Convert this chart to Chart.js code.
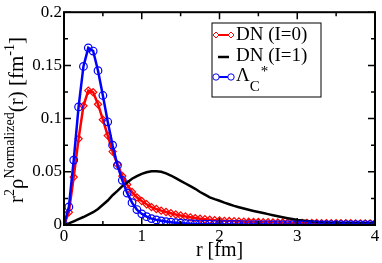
<!DOCTYPE html>
<html>
<head>
<meta charset="utf-8">
<script src="https://cdn.jsdelivr.net/npm/chart.js@4/dist/chart.umd.min.js"></script>
<style>
  body { margin: 0; background: #fff; }
  canvas { display: block; }
</style>
</head>
<body>
<canvas id="chart" width="382" height="263"></canvas>
<script>
// radial grid r [fm]
var rValues = [0, 0.0625, 0.125, 0.1875, 0.25, 0.3125, 0.375, 0.4375, 0.5, 0.5625, 0.625, 0.6875,
    0.75, 0.8125, 0.875, 0.9375, 1, 1.0625, 1.125, 1.1875, 1.25, 1.3125, 1.375, 1.4375, 1.5, 1.5625,
    1.625, 1.6875, 1.75, 1.8125, 1.875, 1.9375, 2, 2.0625, 2.125, 2.1875, 2.25, 2.3125, 2.375, 2.4375,
    2.5, 2.5625, 2.625, 2.6875, 2.75, 2.8125, 2.875, 2.9375, 3, 3.0625, 3.125, 3.1875, 3.25, 3.3125,
    3.375, 3.4375, 3.5, 3.5625, 3.625, 3.6875, 3.75, 3.8125, 3.875, 3.9375, 4];

var dnI0 = [0, 0.012, 0.045, 0.081, 0.112, 0.1263, 0.1248, 0.1135, 0.099, 0.084, 0.069, 0.057,
    0.046, 0.038, 0.031, 0.026, 0.0225, 0.0195, 0.0168, 0.015, 0.0135, 0.0122, 0.011, 0.0099, 0.0089, 0.008,
    0.0072, 0.0065, 0.0059, 0.0054, 0.0049, 0.0045, 0.0042, 0.0039, 0.0037, 0.0035, 0.0033, 0.0031, 0.003, 0.0029,
    0.0028, 0.0027, 0.0026, 0.0025, 0.0024, 0.0023, 0.0022, 0.0022, 0.0021, 0.002, 0.002, 0.0019, 0.0019, 0.0018,
    0.0018, 0.0017, 0.0017, 0.0016, 0.0016, 0.0016, 0.0015, 0.0015, 0.0015, 0.0014, 0.0014];

var dnI1 = [0, 0.0015, 0.0035, 0.0055, 0.0075, 0.0097, 0.012, 0.015, 0.019, 0.023, 0.028, 0.032,
    0.0365, 0.04, 0.0435, 0.046, 0.048, 0.0495, 0.0505, 0.0505, 0.05, 0.0485, 0.0465, 0.044, 0.0415, 0.039,
    0.0365, 0.034, 0.031, 0.0285, 0.026, 0.0243, 0.0228, 0.021, 0.0195, 0.018, 0.0167, 0.0155, 0.0143, 0.0132,
    0.0122, 0.0112, 0.0102, 0.0092, 0.0082, 0.0073, 0.0064, 0.0056, 0.0048, 0.0042, 0.0037, 0.0032, 0.0028, 0.0025,
    0.0023, 0.0021, 0.002, 0.0019, 0.0019, 0.0018, 0.0018, 0.0017, 0.0017, 0.0016, 0.0016];

var lambdaC = [0, 0.017, 0.061, 0.111, 0.149, 0.1665, 0.1635, 0.145, 0.1217, 0.097, 0.075, 0.056,
    0.042, 0.03, 0.021, 0.0145, 0.0105, 0.0078, 0.006, 0.0048, 0.0039, 0.0032, 0.0026, 0.0021, 0.0017, 0.0014,
    0.0012, 0.001, 0.0009, 0.0008, 0.0007, 0.0006, 0.0006, 0.0005, 0.0005, 0.0005, 0.0005, 0.0004, 0.0004, 0.0004,
    0.0004, 0.0004, 0.0004, 0.0003, 0.0003, 0.0003, 0.0003, 0.0003, 0.0003, 0.0003, 0.0003, 0.0003, 0.0003, 0.0003,
    0.0003, 0.0003, 0.0003, 0.0003, 0.0003, 0.0003, 0.0003, 0.0003, 0.0003, 0.0003, 0.0003];

var xTicks = [0, 1, 2, 3, 4];
var xMinorTicks = [0.5, 1.5, 2.5, 3.5];
var yTicks = [0, 0.05, 0.1, 0.15, 0.2];
var yMinorTicks = [0.025, 0.075, 0.125, 0.175];

var serif = "'Liberation Serif', 'DejaVu Serif', serif";

function pairs(ys) {
    return rValues.map(function (r, i) {
        return { x: r, y: ys[i] };
    });
}

// frame, inward ticks, y title and legend
var decorations = {
    id: "decorations",
    afterDraw: function (chart) {
        var ctx = chart.ctx;
        var area = chart.chartArea;
        var xs = chart.scales.x;
        var ys = chart.scales.y;

        ctx.save();
        ctx.strokeStyle = "#000";
        ctx.lineWidth = 1.5;
        function tick(vals, len) {
            vals.forEach(function (v) {
                var px = xs.getPixelForValue(v);
                ctx.beginPath();
                ctx.moveTo(px, area.bottom);
                ctx.lineTo(px, area.bottom - len);
                ctx.moveTo(px, area.top);
                ctx.lineTo(px, area.top + len);
                ctx.stroke();
            });
        }
        function ytick(vals, len) {
            vals.forEach(function (v) {
                var py = ys.getPixelForValue(v);
                ctx.beginPath();
                ctx.moveTo(area.left, py);
                ctx.lineTo(area.left + len, py);
                ctx.moveTo(area.right, py);
                ctx.lineTo(area.right - len, py);
                ctx.stroke();
            });
        }
        tick(xTicks, 7);
        tick(xMinorTicks, 4);
        ytick(yTicks, 7);
        ytick(yMinorTicks, 4);

        ctx.lineWidth = 2;
        ctx.strokeRect(area.left, area.top, area.right - area.left, area.bottom - area.top);

        // y axis title with super scripts
        var parts = [
            { t: "r", sup: false },
            { t: "2", sup: true },
            { t: "\u03c1", sup: false },
            { t: "Normalized", sup: true },
            { t: "(r) [fm", sup: false },
            { t: "-1", sup: true },
            { t: "]", sup: false }
        ];
        var mainFont = "21px " + serif;
        var supFont = "14px " + serif;
        var total = 0;
        parts.forEach(function (p) {
            ctx.font = p.sup ? supFont : mainFont;
            p.w = ctx.measureText(p.t).width;
            total += p.w;
        });
        ctx.translate(23, 120);
        ctx.rotate(-Math.PI / 2);
        ctx.fillStyle = "#000";
        ctx.textBaseline = "alphabetic";
        var cx = -total / 2;
        parts.forEach(function (p) {
            ctx.font = p.sup ? supFont : mainFont;
            ctx.fillText(p.t, cx, p.sup ? -9 : 0);
            cx += p.w;
        });
        ctx.restore();

        // legend
        ctx.save();
        ctx.strokeStyle = "#000";
        ctx.lineWidth = 1;
        ctx.strokeRect(212, 23, 109, 74);
        ctx.font = "19px " + serif;
        ctx.fillStyle = "#000";
        ctx.textBaseline = "middle";

        ctx.lineWidth = 2;
        ctx.strokeStyle = "#ff0000";
        ctx.beginPath();
        ctx.moveTo(216, 35);
        ctx.lineTo(231, 35);
        ctx.stroke();
        ctx.lineWidth = 1;
        [216, 231].forEach(function (x) {
            ctx.beginPath();
            ctx.moveTo(x - 3, 35);
            ctx.lineTo(x, 32);
            ctx.lineTo(x + 3, 35);
            ctx.lineTo(x, 38);
            ctx.closePath();
            ctx.fillStyle = "#fff";
            ctx.fill();
            ctx.stroke();
        });
        ctx.fillStyle = "#000";
        ctx.fillText("DN (I=0)", 236, 35);

        ctx.lineWidth = 2.5;
        ctx.strokeStyle = "#000";
        ctx.beginPath();
        ctx.moveTo(218, 57);
        ctx.lineTo(229, 57);
        ctx.stroke();
        ctx.fillText("DN (I=1)", 236, 56);

        ctx.lineWidth = 2;
        ctx.strokeStyle = "#0000ff";
        ctx.beginPath();
        ctx.moveTo(216, 77);
        ctx.lineTo(231, 77);
        ctx.stroke();
        ctx.lineWidth = 1;
        [216, 231].forEach(function (x) {
            ctx.beginPath();
            ctx.arc(x, 77, 3.2, 0, Math.PI * 2);
            ctx.fillStyle = "#fff";
            ctx.fill();
            ctx.stroke();
        });
        ctx.fillStyle = "#000";
        ctx.fillText("\u039b", 236, 76);
        var lw = ctx.measureText("\u039b").width;
        ctx.font = "15px " + serif;
        ctx.fillText("C", 236 + lw, 87);
        ctx.fillText("*", 236 + lw + 11, 72);
        ctx.restore();
    }
};

var ctx = document.getElementById("chart").getContext("2d");
var chart = new Chart(ctx, {
    type: "line",
    data: {
        datasets: [
            {
                label: "DN (I=0)",
                data: pairs(dnI0),
                borderColor: "#ff0000",
                borderWidth: 2.5,
                pointStyle: "rectRot",
                pointRadius: 3.6,
                pointBorderWidth: 1.2,
                pointBorderColor: "#ff0000",
                pointBackgroundColor: "rgba(255,255,255,0)",
                fill: false,
                order: 3
            },
            {
                label: "DN (I=1)",
                data: pairs(dnI1),
                borderColor: "#000000",
                borderWidth: 2.5,
                pointRadius: 0,
                fill: false,
                order: 2
            },
            {
                label: "Lambda_c*",
                data: pairs(lambdaC),
                borderColor: "#0000ff",
                borderWidth: 2.5,
                pointStyle: "circle",
                pointRadius: 3.8,
                pointBorderWidth: 1.2,
                pointBorderColor: "#0000ff",
                pointBackgroundColor: "rgba(255,255,255,0)",
                fill: false,
                order: 1
            }
        ]
    },
    options: {
        responsive: false,
        animation: false,
        layout: { padding: { top: 6, right: 7, left: 0, bottom: 0 } },
        plugins: {
            legend: { display: false },
            tooltip: { enabled: false }
        },
        scales: {
            x: {
                type: "linear",
                min: 0,
                max: 4,
                afterFit: function (scale) { scale.height = 38; },
                afterBuildTicks: function (scale) {
                    scale.ticks = xTicks.map(function (v) { return { value: v }; });
                },
                grid: { display: false, drawTicks: false },
                border: { display: false },
                ticks: {
                    color: "#000",
                    padding: 1,
                    maxRotation: 0,
                    font: { family: serif, size: 17 }
                },
                title: {
                    display: true,
                    text: "r [fm]",
                    color: "#000",
                    font: { family: serif, size: 20 },
                    padding: { top: 0, bottom: 0 }
                }
            },
            y: {
                min: 0,
                max: 0.2,
                afterFit: function (scale) { scale.width = 64; },
                afterBuildTicks: function (scale) {
                    scale.ticks = yTicks.map(function (v) { return { value: v }; });
                },
                grid: { display: false, drawTicks: false },
                border: { display: false },
                ticks: {
                    color: "#000",
                    padding: 2,
                    font: { family: serif, size: 17 },
                    callback: function (v) { return String(v); }
                }
            }
        }
    },
    plugins: [decorations]
});
</script>
</body>
</html>
